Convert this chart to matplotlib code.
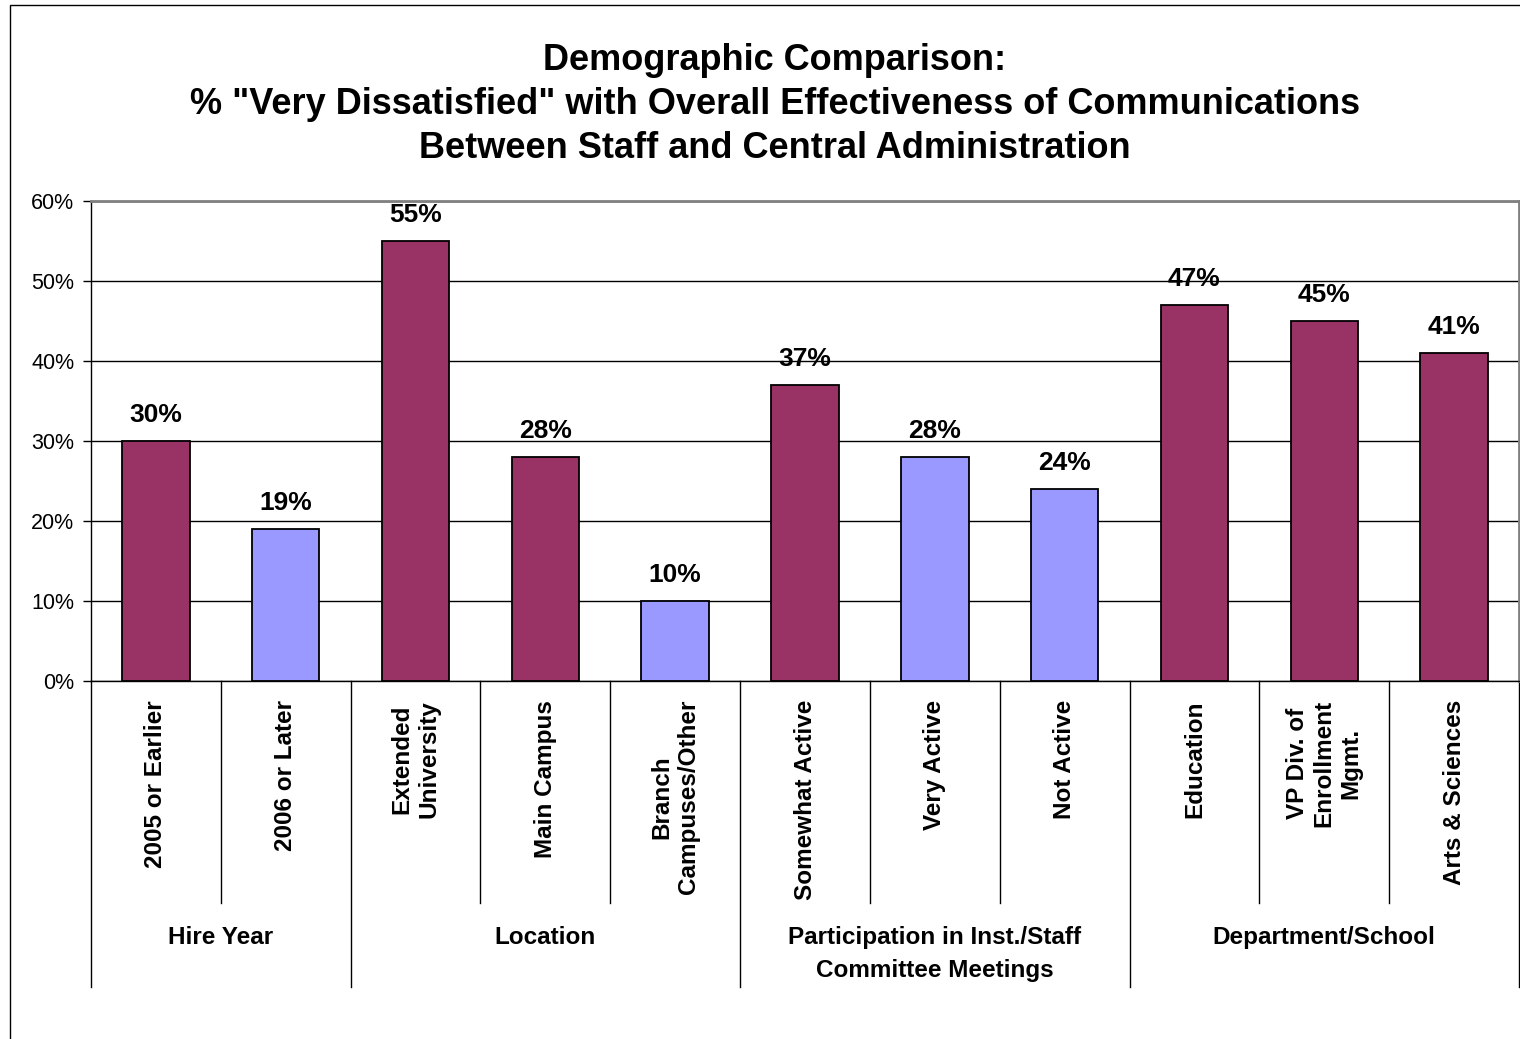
import matplotlib
matplotlib.use('Agg')
import matplotlib.pyplot as plt
from matplotlib.patches import Rectangle
from matplotlib.ticker import PercentFormatter
import matplotlib.transforms as mtransforms

# data
categories = ['2005 or Earlier', '2006 or Later', 'Extended\nUniversity', 'Main Campus',
              'Branch\nCampuses/Other', 'Somewhat Active', 'Very Active', 'Not Active',
              'Education', 'VP Div. of\nEnrollment\nMgmt.', 'Arts & Sciences']
values = [30, 19, 55, 28, 10, 37, 28, 24, 47, 45, 41]
groups = ['Hire Year', 'Location', 'Participation in Inst./Staff\nCommittee Meetings',
          'Department/School']
group_sizes = [2, 3, 3, 3]
title_lines = ['Demographic Comparison:',
               '% "Very Dissatisfied" with Overall Effectiveness of Communications',
               'Between Staff and Central Administration']

purple = '#993366'
lavender = '#9999FF'
bar_colors = [purple, lavender, purple, purple, lavender, purple, lavender, lavender,
              purple, purple, purple]

plt.rcParams['font.family'] = ['Liberation Sans', 'DejaVu Sans']

W, H = 1520, 1039
fig = plt.figure(figsize=(W / 100, H / 100), dpi=100)

# outer chart border (right and bottom edges fall outside the image)
fig.patches.append(Rectangle((10 / W, -0.1), 1.2, 1.1 - 5 / H, transform=fig.transFigure,
                             fill=False, edgecolor='black', linewidth=1))

ax = fig.add_axes([91 / W, (H - 681) / H, 1428 / W, 480 / H])
x = [i + 0.5 for i in range(len(values))]
ax.bar(x, values, width=0.52, color=bar_colors, edgecolor='black', linewidth=1.3, zorder=3)

ax.set_xlim(0, len(values))
ax.set_ylim(0, 60)
ax.set_yticks(range(0, 61, 10))
ax.yaxis.set_major_formatter(PercentFormatter(decimals=0))
ax.tick_params(axis='y', labelsize=15.5, length=6, width=1, direction='out', pad=6)
ax.set_xticks([])
ax.grid(axis='y', color='black', linewidth=1, zorder=0)
ax.set_axisbelow(True)
for s in ['top', 'right']:
    ax.spines[s].set_color('#808080')
    ax.spines[s].set_linewidth(2)
for s in ['left', 'bottom']:
    ax.spines[s].set_color('black')
    ax.spines[s].set_linewidth(1)

for xi, v in zip(x, values):
    ax.annotate(f'{v}%', (xi, v), xytext=(0, 10), textcoords='offset points',
                ha='center', va='bottom', fontsize=19, fontweight='bold')

# category labels and separators under the axis
trans = mtransforms.blended_transform_factory(ax.transData, ax.transAxes)
px = 1 / 480
for xi, lab in zip(x, categories):
    ax.text(xi, -19 * px, lab, transform=trans, rotation=90, ha='center', va='top',
            multialignment='center', fontsize=17.5, fontweight='bold')

edges = [0]
for n in group_sizes:
    edges.append(edges[-1] + n)
for i in range(len(values) + 1):
    depth = 306 if i in edges else 222
    ax.plot([i, i], [0, -depth * px], transform=trans, color='black', linewidth=1,
            clip_on=False)

for g, a, b in zip(groups, edges[:-1], edges[1:]):
    ax.text((a + b) / 2, -245 * px, g, transform=trans, ha='center', va='top',
            fontsize=17.5, fontweight='bold', linespacing=1.55)

for i, line in enumerate(title_lines):
    fig.text(775 / W, 1 - (60 + 44.5 * i) / H, line, ha='center', va='center',
             fontsize=26, fontweight='bold')

fig.savefig('out.png', dpi=100)
